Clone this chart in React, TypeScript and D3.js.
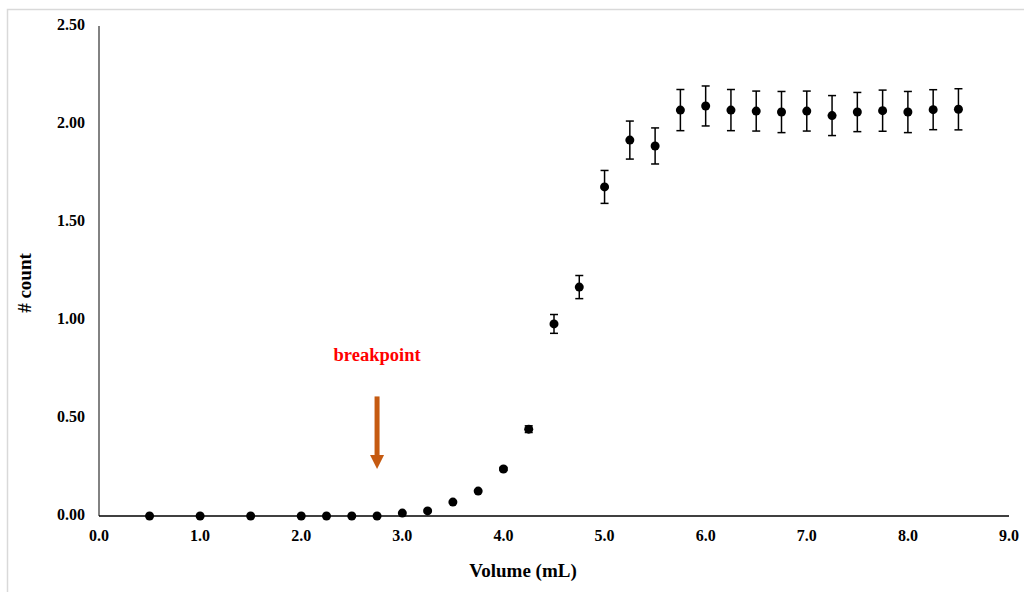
import React from "react";
import * as d3 from "d3";

const volumes = [0.5, 1.0, 1.5, 2.0, 2.25, 2.5, 2.75, 3.0, 3.25, 3.5, 3.75, 4.0, 4.25, 4.5, 4.75, 5.0, 5.25, 5.5, 5.75, 6.0, 6.25, 6.5, 6.75, 7.0, 7.25, 7.5, 7.75, 8.0, 8.25, 8.5];
const counts = [0, 0, 0, 0, 0, 0, 0, 0.015, 0.026, 0.071, 0.127, 0.24, 0.443, 0.98, 1.168, 1.679, 1.918, 1.888, 2.071, 2.092, 2.071, 2.066, 2.061, 2.066, 2.043, 2.061, 2.068, 2.061, 2.073, 2.075];
const errors = [0, 0, 0, 0, 0, 0, 0, 0, 0, 0, 0, 0.008, 0.017, 0.048, 0.059, 0.084, 0.097, 0.092, 0.105, 0.102, 0.105, 0.102, 0.105, 0.102, 0.102, 0.1, 0.105, 0.105, 0.102, 0.105];
const xTicks = [0, 1, 2, 3, 4, 5, 6, 7, 8, 9];
const yTicks = [0, 0.5, 1.0, 1.5, 2.0, 2.5];
const breakpointX = 2.75;
const arrowTop = 0.61;
const arrowTip = 0.24;
const labelY = 0.81;

const W = 1024;
const H = 592;
const font = "'Liberation Serif', 'Times New Roman', serif";

export default function App() {
  const x = d3.scaleLinear().domain([0, 9]).range([99, 1009]);
  const y = d3.scaleLinear().domain([0, 2.5]).range([516, 26]);
  const ax = x(breakpointX);
  const headH = 14;
  const tipY = y(arrowTip);
  return (
    <svg width={W} height={H} style={{ position: "fixed", left: 0, top: 0, background: "#fff" }}>
      <rect x={7.5} y={9.5} width={1040} height={620} fill="#fff" stroke="#d9d9d9" strokeWidth={1.5} />
      {/* axes */}
      <line x1={x(0)} x2={x(0)} y1={y(2.5)} y2={y(0)} stroke="#595959" strokeWidth={1.5} />
      <line x1={x(0)} x2={x(9)} y1={y(0)} y2={y(0)} stroke="#000" strokeWidth={1.5} />
      {yTicks.map((t) => (
        <text key={"y" + t} x={85} y={y(t)} textAnchor="end" dominantBaseline="middle" fontFamily={font} fontWeight="bold" fontSize={16} fill="#000">
          {t.toFixed(2)}
        </text>
      ))}
      {xTicks.map((t) => (
        <text key={"x" + t} x={x(t)} y={537} textAnchor="middle" dominantBaseline="middle" fontFamily={font} fontWeight="bold" fontSize={16} fill="#000">
          {t.toFixed(1)}
        </text>
      ))}
      <text x={523} y={573} textAnchor="middle" dominantBaseline="middle" fontFamily={font} fontWeight="bold" fontSize={19} fill="#000">
        Volume (mL)
      </text>
      <text transform={`translate(27,283) rotate(-90)`} textAnchor="middle" dominantBaseline="middle" fontFamily={font} fontWeight="bold" fontSize={19} fill="#000">
        # count
      </text>
      {/* error bars */}
      {volumes.map((v, i) =>
        errors[i] > 0.004 ? (
          <g key={"e" + i} stroke="#000" strokeWidth={1.5}>
            <line x1={x(v)} x2={x(v)} y1={y(counts[i] + errors[i])} y2={y(counts[i] - errors[i])} />
            <line x1={x(v) - 4} x2={x(v) + 4} y1={y(counts[i] + errors[i])} y2={y(counts[i] + errors[i])} />
            <line x1={x(v) - 4} x2={x(v) + 4} y1={y(counts[i] - errors[i])} y2={y(counts[i] - errors[i])} />
          </g>
        ) : null
      )}
      {volumes.map((v, i) => (
        <circle key={"p" + i} cx={x(v)} cy={y(counts[i])} r={4.5} fill="#000" />
      ))}
      {/* breakpoint annotation */}
      <rect x={ax - 2.5} y={y(arrowTop)} width={5} height={tipY - headH - y(arrowTop) + 1} fill="#c55a11" />
      <path d={`M${ax - 7},${tipY - headH} L${ax + 7},${tipY - headH} L${ax},${tipY} Z`} fill="#c55a11" />
      <text x={ax} y={y(labelY)} textAnchor="middle" dominantBaseline="middle" fontFamily={font} fontWeight="bold" fontSize={18.5} fill="#ff0000">
        breakpoint
      </text>
    </svg>
  );
}
